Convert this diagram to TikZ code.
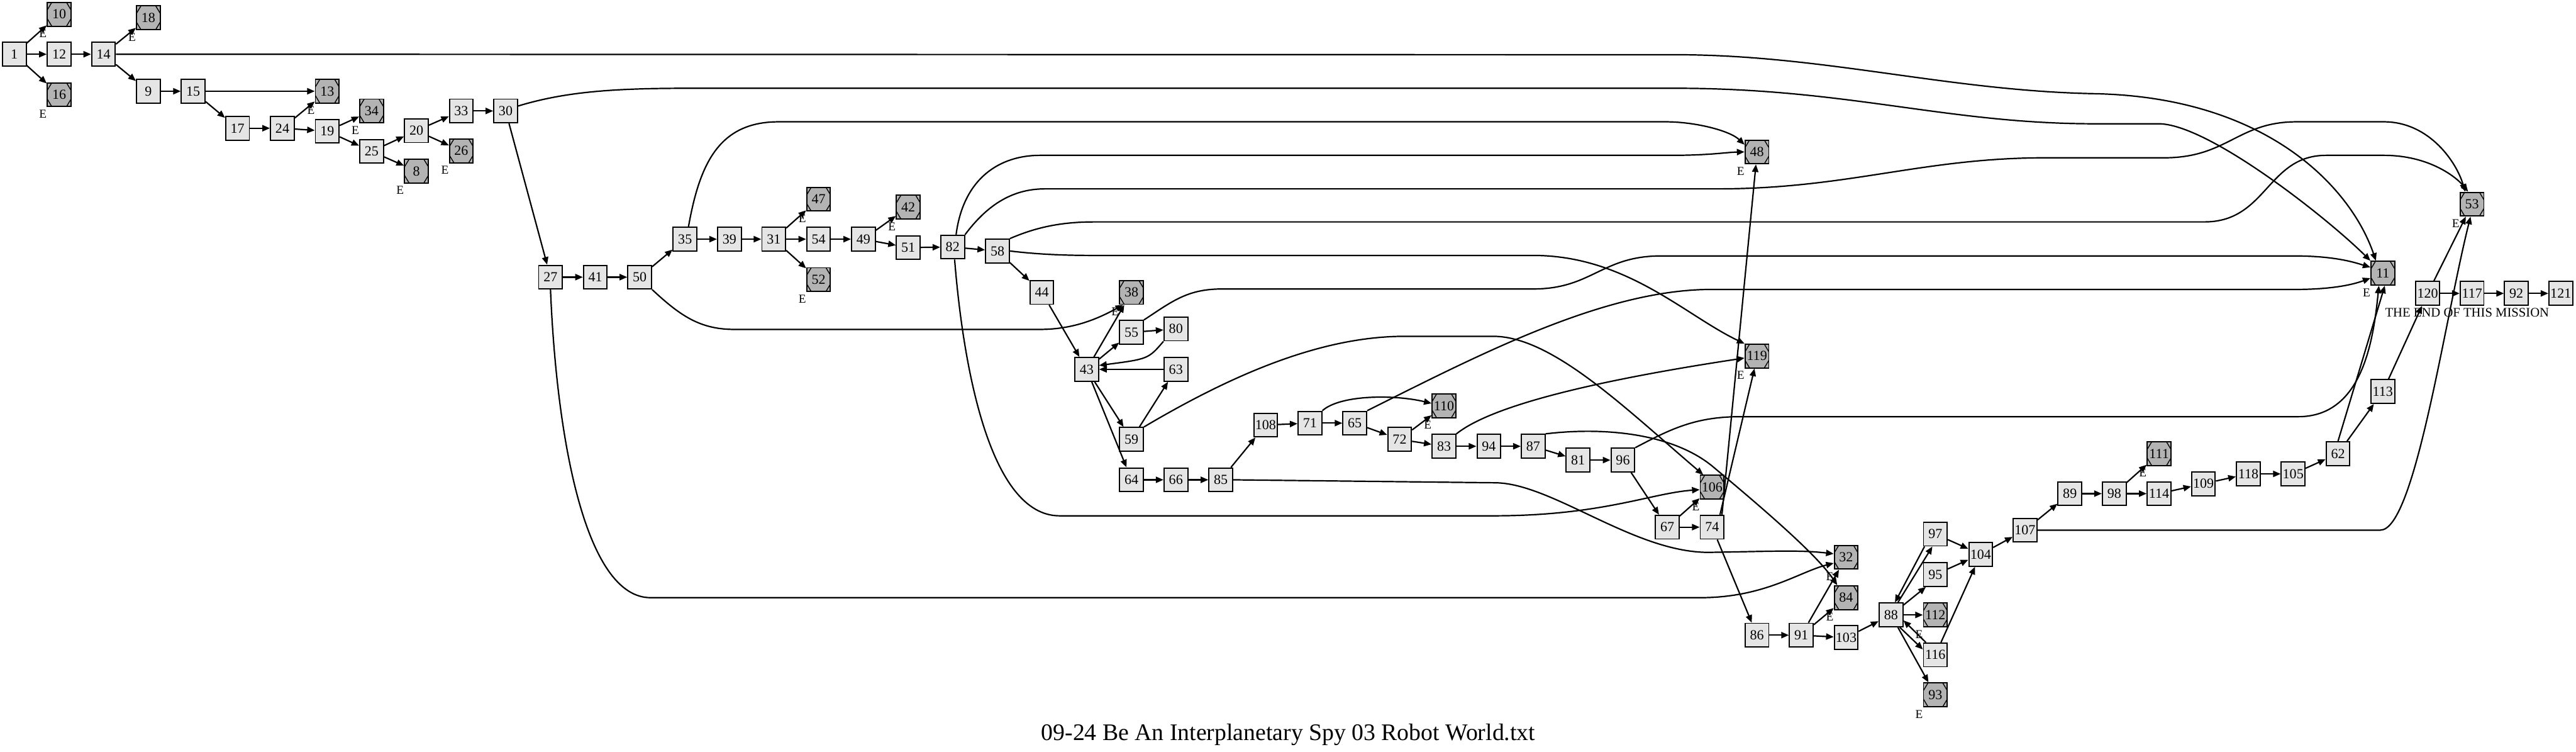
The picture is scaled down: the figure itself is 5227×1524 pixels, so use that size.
\documentclass[tikz,border=0pt]{standalone}
\usepackage{fontspec}
\setmainfont{Liberation Serif}
\usetikzlibrary{arrows.meta,calc}
\definecolor{nfill}{HTML}{E5E5E5}
\definecolor{efill}{HTML}{B3B3B3}
\tikzset{
  nd/.style={draw=black, line width=0.7pt, fill=nfill, minimum width=0.48cm, minimum height=0.48cm, inner sep=0pt, font=\fontsize{8}{9}\selectfont},
  en/.style={nd, fill=efill, path picture={
     \draw[line width=0.5pt] ([xshift=0.09cm]path picture bounding box.north west) -- ([yshift=-0.15cm]path picture bounding box.north west);
     \draw[line width=0.5pt] ([xshift=-0.09cm]path picture bounding box.north east) -- ([yshift=-0.15cm]path picture bounding box.north east);
     \draw[line width=0.5pt] ([xshift=0.09cm]path picture bounding box.south west) -- ([yshift=0.15cm]path picture bounding box.south west);
     \draw[line width=0.5pt] ([xshift=-0.09cm]path picture bounding box.south east) -- ([yshift=0.15cm]path picture bounding box.south east);
  }},
  ed/.style={-{Triangle[length=4.4pt,width=3.6pt]}, line width=0.8pt},
  el/.style={inner sep=0pt, font=\fontsize{7}{8}\selectfont},
}
\begin{document}
\begin{tikzpicture}[x=0.01cm,y=-0.01cm]
\useasboundingbox (0,0) rectangle (5227,1524);
\fill[white] (0,0) rectangle (5227,1524);
% nodes
\node[nd] (n1) at (29,110) {1};
\node[en] (n10) at (120,29) {10};
\node[nd] (n12) at (120,110) {12};
\node[en] (n16) at (120,192) {16};
\node[nd] (n14) at (210,110) {14};
\node[en] (n18) at (301,36) {18};
\node[nd] (n9) at (301,185) {9};
\node[nd] (n15) at (392,185) {15};
\node[en] (n13) at (664,185) {13};
\node[nd] (n17) at (482,260) {17};
\node[nd] (n24) at (573,260) {24};
\node[nd] (n19) at (664,266) {19};
\node[en] (n34) at (754,225) {34};
\node[nd] (n25) at (754,307) {25};
\node[nd] (n20) at (845,265) {20};
\node[en] (n8) at (845,347) {8};
\node[nd] (n33) at (936,225) {33};
\node[en] (n26) at (936,306) {26};
\node[nd] (n30) at (1026,225) {30};
\node[nd] (n27) at (1117,562) {27};
\node[nd] (n41) at (1208,562) {41};
\node[nd] (n50) at (1298,562) {50};
\node[nd] (n35) at (1390,485) {35};
\node[nd] (n39) at (1480,485) {39};
\node[nd] (n31) at (1570,485) {31};
\node[en] (n47) at (1661,404) {47};
\node[nd] (n54) at (1661,485) {54};
\node[en] (n52) at (1661,567) {52};
\node[nd] (n49) at (1752,485) {49};
\node[en] (n42) at (1843,420) {42};
\node[nd] (n51) at (1843,502) {51};
\node[nd] (n82) at (1933,501) {82};
\node[nd] (n58) at (2024,509) {58};
\node[nd] (n44) at (2114,593) {44};
\node[nd] (n43) at (2205,749) {43};
\node[en] (n38) at (2296,593) {38};
\node[nd] (n55) at (2296,674) {55};
\node[nd] (n59) at (2296,891) {59};
\node[nd] (n64) at (2296,973) {64};
\node[nd] (n80) at (2386,667) {80};
\node[nd] (n63) at (2386,749) {63};
\node[nd] (n66) at (2386,973) {66};
\node[nd] (n85) at (2477,973) {85};
\node[nd] (n108) at (2568,862) {108};
\node[nd] (n71) at (2658,858) {71};
\node[nd] (n65) at (2749,858) {65};
\node[nd] (n72) at (2840,891) {72};
\node[en] (n110) at (2930,823) {110};
\node[nd] (n83) at (2930,905) {83};
\node[nd] (n94) at (3021,905) {94};
\node[nd] (n87) at (3111,905) {87};
\node[nd] (n81) at (3202,933) {81};
\node[nd] (n96) at (3293,933) {96};
\node[nd] (n67) at (3383,1069) {67};
\node[en] (n106) at (3474,988) {106};
\node[nd] (n74) at (3474,1069) {74};
\node[en] (n119) at (3565,722) {119};
\node[en] (n48) at (3565,308) {48};
\node[nd] (n86) at (3565,1288) {86};
\node[nd] (n91) at (3655,1288) {91};
\node[en] (n32) at (3746,1130) {32};
\node[en] (n84) at (3746,1212) {84};
\node[nd] (n103) at (3746,1293) {103};
\node[nd] (n88) at (3837,1247) {88};
\node[nd] (n97) at (3927,1083) {97};
\node[nd] (n95) at (3927,1165) {95};
\node[en] (n112) at (3927,1247) {112};
\node[nd] (n116) at (3927,1328) {116};
\node[en] (n93) at (3927,1409) {93};
\node[nd] (n104) at (4019,1124) {104};
\node[nd] (n107) at (4109,1075) {107};
\node[nd] (n89) at (4200,1001) {89};
\node[nd] (n98) at (4290,1001) {98};
\node[en] (n111) at (4381,920) {111};
\node[nd] (n114) at (4381,1001) {114};
\node[nd] (n109) at (4471,981) {109};
\node[nd] (n118) at (4562,961) {118};
\node[nd] (n105) at (4653,961) {105};
\node[nd] (n62) at (4744,920) {62};
\node[nd] (n113) at (4835,794) {113};
\node[en] (n11) at (4835,554) {11};
\node[nd] (n120) at (4926,595) {120};
\node[nd] (n117) at (5016,595) {117};
\node[nd] (n92) at (5106,595) {92};
\node[nd] (n121) at (5196,595) {121};
\node[en] (n53) at (5016,414) {53};
% E labels
\foreach \n in {10,16,18,13,34,8,26,47,52,42,38,110,106,119,48,32,84,112,93,111,11,53}
  \node[el] (e\n) at ($(n\n)+(-33,39)$) {E};
\node[inner sep=0pt, font=\fontsize{7.5}{8}\selectfont] (endlbl) at (5006,634) {THE END OF THIS MISSION};
\node[inner sep=0pt, font=\fontsize{13.7}{16}\selectfont] (title) at (2614,1490) {09-24 Be An Interplanetary Spy 03 Robot World.txt};
% straight edges
\foreach \a/\b in {1/10,1/12,1/16,12/14,14/18,14/9,9/15,15/13,15/17,17/24,24/13,24/19,19/34,19/25,25/20,25/8,20/33,20/26,33/30,30/27,27/41,41/50,50/35,35/39,39/31,31/47,31/54,31/52,54/49,49/42,49/51,51/82,82/58,58/44,44/43,43/38,43/55,55/80,43/59,43/64,59/63,64/66,66/85,85/108,108/71,71/65,65/72,72/110,72/83,83/94,94/87,87/81,81/96,96/67,67/106,67/74,74/86,86/91,91/103,91/32,91/84,103/88,88/112,88/93,95/104,97/104,116/104,104/107,107/89,89/98,98/111,98/114,114/109,109/118,118/105,105/62,62/113,113/120,120/117,117/92,92/121,120/53}
  \draw[ed] (n\a) -- (n\b);
\draw[ed] (n63) -- (n43);
\draw[ed] (n62.north) -- ($(n11.south)+(4,0)$);
% pairs near 88
\draw[ed] ($(n88.north)+(14,0)$) -- ($(n97.south)+(-6,0)$);
\draw[ed] ($(n97.south)+(-22,0)$) -- ($(n88.north)+(8,0)$);
\draw[ed] ($(n88.east)+(0,-20)$) -- ($(n95.south west)+(6,0)$);
\draw[ed] ($(n88.south)+(18,0)$) -- ($(n116.west)+(0,-11)$);
\draw[ed] ($(n116.north west)+(6,0)$) -- ($(n88.east)+(0,11)$);
% curved edges
\draw[ed] (n14.east) -- (3400,111) .. controls (3700,111) and (3950,184) .. (4250,190) .. controls (4600,197) and (4770,380) .. ($(n11.north)+(-14,0)$);
\draw[ed] ($(n30.east)+(0,-10)$) .. controls (1150,185) and (1250,179) .. (1400,179) -- (3400,179) .. controls (3750,179) and (3950,251) .. (4250,251) -- (4380,251) .. controls (4480,251) and (4720,440) .. (n11.north west);
\draw[ed] ($(n35.north)+(7,0)$) .. controls (1420,330) and (1460,247) .. (1580,247) -- (3380,247) .. controls (3440,247) and (3510,265) .. (n48.150);
\draw[ed] ($(n82.north)+(7,0)$) .. controls (1955,360) and (2030,315) .. (2110,315) -- (3390,315) .. controls (3470,315) and (3500,309) .. (n48.west);
\draw[ed] (n82.north east) .. controls (2000,420) and (2050,383) .. (2120,383) -- (3485,383) .. controls (3750,383) and (3900,320) .. (4150,320) -- (4391,320) .. controls (4520,320) and (4540,247) .. (4660,247) -- (4837,247) .. controls (4930,247) and (4985,330) .. ($(n53.north)+(-14,0)$);
\draw[ed] (n58.north east) .. controls (2100,462) and (2150,450) .. (2220,450) -- (4473,450) .. controls (4600,450) and (4600,315) .. (4720,315) -- (4837,315) .. controls (4930,315) and (4985,360) .. ($(n53.north)+(-8,0)$);
\draw[ed] (n58.east) .. controls (2100,515) and (2150,518) .. (2220,518) -- (3111,518) .. controls (3300,518) and (3420,640) .. (n119.north west);
\draw[ed] (n55.north east) .. controls (2380,610) and (2410,586) .. (2480,586) -- (3111,586) .. controls (3230,586) and (3250,519) .. (3370,519) -- (4655,519) .. controls (4740,519) and (4780,533) .. ($(n11.west)+(0,-12)$);
\draw[ed] (n65.north east) .. controls (3000,720) and (3250,590) .. (3465,587) -- (4655,587) .. controls (4740,587) and (4780,575) .. ($(n11.west)+(0,10)$);
\draw[ed] (n96.north east) .. controls (3390,870) and (3440,845) .. (3531,845) -- (4663,845) .. controls (4790,845) and (4815,700) .. ($(n11.south)+(-8,0)$);
\draw[ed] (n59.north east) .. controls (2500,760) and (2680,682) .. (2850,682) -- (3030,682) .. controls (3150,682) and (3300,830) .. ($(n106.north)+(-18,0)$);
\draw[ed] ($(n82.south)+(4,0)$) .. controls (1955,750) and (2010,1046) .. (2150,1046) -- (3030,1046) .. controls (3250,1046) and (3350,1000) .. ($(n106.west)+(0,5)$);
\draw[ed] (n50.south east) .. controls (1380,640) and (1420,668) .. (1490,668) -- (2110,668) .. controls (2180,668) and (2230,645) .. ($(n38.south)+(-17,0)$);
\draw[ed] (n85.east) -- (3033,979) .. controls (3150,979) and (3320,1125) .. (3474,1120) .. controls (3600,1118) and (3650,1115) .. ($(n32.west)+(0,-7)$);
\draw[ed] (n27.south) .. controls (1130,900) and (1190,1212) .. (1320,1212) -- (3450,1212) .. controls (3580,1212) and (3650,1160) .. ($(n32.west)+(0,12)$);
\draw[ed] (n71.north east) .. controls (2720,800) and (2830,800) .. ($(n110.west)+(0,-5)$);
\draw[ed] (n83.north east) .. controls (3030,820) and (3250,770) .. ($(n119.west)+(0,4)$);
\draw[ed] (n87.north east) .. controls (3260,865) and (3400,880) .. (3480,950) .. controls (3600,1050) and (3690,1130) .. ($(n84.north)+(-18,0)$);
\draw[ed] ($(n74.north)+(20,0)$) -- ($(n48.south)+(-2,0)$);
\draw[ed] ($(n74.north)+(16,0)$) -- ($(n119.south)+(-5,0)$);
\draw[ed] (n80.south west) .. controls (2330,728) .. ($(n43.east)+(0,-8)$);
\draw[ed] (n107.east) -- (4830,1075) .. controls (4900,1075) and (4960,650) .. ($(n53.south)+(-3,0)$);
\end{tikzpicture}
\end{document}
